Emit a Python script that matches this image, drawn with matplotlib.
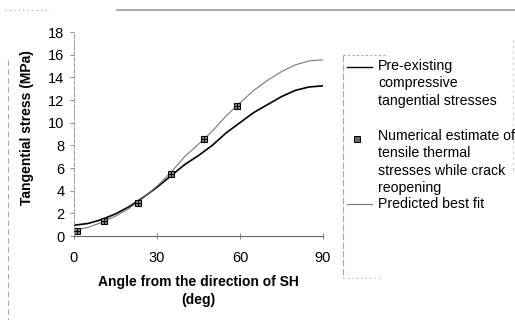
import matplotlib.pyplot as plt
from matplotlib.lines import Line2D
import numpy as np

plt.rcParams['font.family'] = ['Liberation Sans', 'DejaVu Sans']

# angles (deg) and stresses (MPa)
angle = [0, 5, 10, 15, 20, 25, 30, 35, 40, 45, 50, 55, 60, 65, 70, 75, 80, 85, 90]
pre_existing = [0.95, 1.1, 1.45, 1.95, 2.6, 3.4, 4.3, 5.3, 6.3, 7.1, 8.0, 9.1,
                10.0, 10.9, 11.6, 12.3, 12.85, 13.15, 13.25]
best_fit = [0.5, 0.75, 1.2, 1.75, 2.45, 3.35, 4.4, 5.6, 7.0, 8.1, 9.25, 10.6,
            11.75, 12.85, 13.75, 14.5, 15.1, 15.45, 15.55]

num_angle = [1, 11, 23, 35, 47, 59]
num_stress = [0.47, 1.35, 2.95, 5.5, 8.53, 11.47]

xticks = [0, 30, 60, 90]
yticks = [0, 2, 4, 6, 8, 10, 12, 14, 16, 18]

fig = plt.figure(figsize=(5.15, 3.2), dpi=100)
ax = fig.add_axes([74 / 515, 1 - 236 / 320, 249 / 515, 204 / 320])

ax.plot(angle, pre_existing, color='black', lw=1.2)
ax.plot(angle, best_fit, color='#777777', lw=0.8)
ax.plot(num_angle, num_stress, ls='none', marker='s', ms=5, mfc='#888888',
        mec='black', mew=0.8)
ax.plot(num_angle, num_stress, ls='none', marker='+', ms=4, color='black', mew=0.7)

ax.set_xlim(0, 90)
ax.set_ylim(0, 18)
ax.set_xticks(xticks)
ax.set_yticks(yticks)
ax.tick_params(labelsize=10.5, length=3, width=0.6, color='#777777')
ax.tick_params(axis='x', direction='inout', length=5, pad=8)
ax.tick_params(axis='y', pad=4)

for s in ['top', 'right']:
    ax.spines[s].set_visible(False)
ax.spines['left'].set_color('#999999')
ax.spines['left'].set_linestyle((0, (4, 2)))
ax.spines['left'].set_linewidth(0.7)
ax.spines['bottom'].set_color('#666666')
ax.spines['bottom'].set_linewidth(0.8)

fig.text(198 / 515, 1 - 291 / 320, 'Angle from the direction of SH\n(deg)',
         ha='center', va='center', fontsize=10, fontweight='bold', linespacing=1.3)
fig.text(27 / 515, 1 - 128 / 320, 'Tangential stress (MPa)', rotation=90,
         ha='center', va='center', fontsize=10, fontweight='bold')


# legend drawn by hand in figure pixels
def fx(px):
    return px / 515


def fy(py):
    return 1 - py / 320


leg_font = dict(ha='left', va='top', fontsize=10.2, linespacing=1.3)
fig.add_artist(Line2D([fx(347), fx(372)], [fy(67), fy(67)], color='black', lw=1.0))
fig.text(fx(378), fy(59), 'Pre-existing\ncompressive\ntangential stresses', **leg_font)
fig.add_artist(Line2D([fx(357)], [fy(139)], ls='none', marker='s', ms=4,
                      mfc='#666666', mec='black', mew=0.7))
fig.text(fx(378), fy(129), 'Numerical estimate of\ntensile thermal\nstresses while crack\nreopening',
         **leg_font)
fig.add_artist(Line2D([fx(347), fx(372)], [fy(204), fy(204)], color='#777777', lw=0.8))
fig.text(fx(378), fy(197), 'Predicted best fit', **leg_font)

# faint frame fragments around the plot and the legend
frame = dict(color='#aaaaaa', lw=0.8)
fig.add_artist(Line2D([fx(117), fx(515)], [fy(10), fy(10)], color='#999999', lw=1.2))
fig.add_artist(Line2D([fx(5), fx(50)], [fy(10), fy(10)], ls=(0, (1, 3)), **frame))
fig.add_artist(Line2D([fx(8), fx(8)], [fy(60), fy(320)], ls=(0, (5, 3)), **frame))
fig.add_artist(Line2D([fx(343), fx(343)], [fy(55), fy(278)], ls=(0, (6, 2)), **frame))
fig.add_artist(Line2D([fx(343), fx(385)], [fy(55), fy(55)], ls=(0, (2, 2)), **frame))
fig.add_artist(Line2D([fx(343), fx(380)], [fy(278), fy(278)], ls=(0, (1, 3)), **frame))
fig.add_artist(Line2D([fx(513), fx(513)], [fy(40), fy(170)], ls=(0, (2, 3)), color='#cccccc', lw=0.8))

fig.savefig('out.png', dpi=100)
